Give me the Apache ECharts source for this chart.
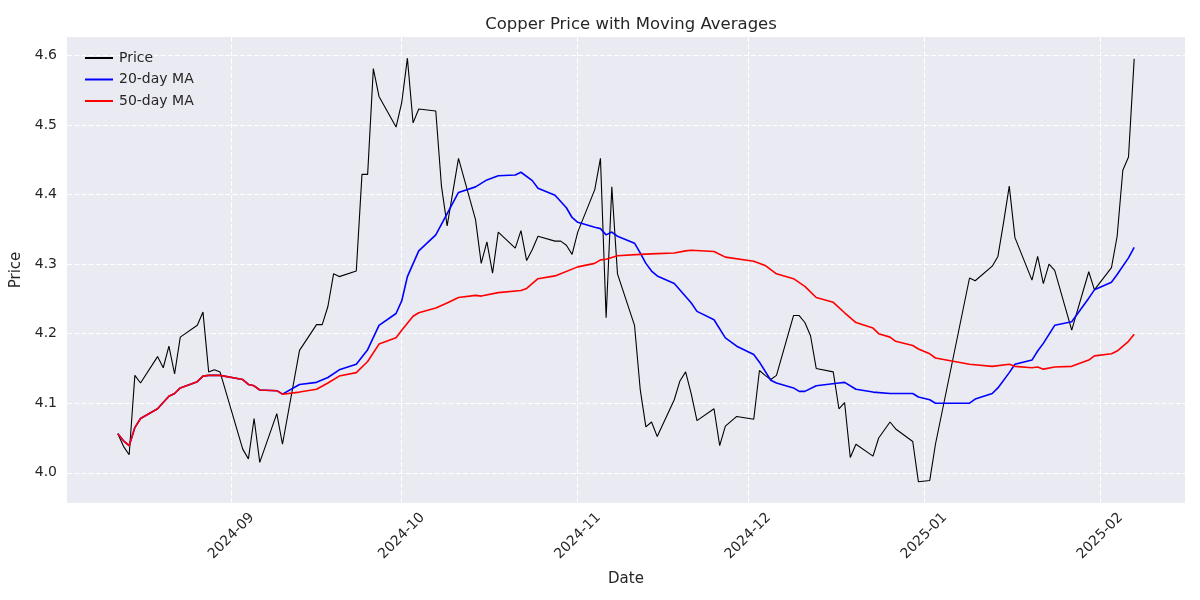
<!DOCTYPE html>
<html>
<head>
<meta charset="utf-8">
<script src="https://cdn.jsdelivr.net/npm/echarts@6/dist/echarts.min.js"></script>
<style>
  html, body { margin: 0; padding: 0; background: #ffffff; }
  #chart { width: 1200px; height: 600px; }
</style>
</head>
<body>
<div id="chart"></div>
<script>
// ---- Data ----
const priceDates = [
  '2024-08-12','2024-08-13','2024-08-14','2024-08-15','2024-08-16',
  '2024-08-19','2024-08-20','2024-08-21','2024-08-22','2024-08-23',
  '2024-08-26','2024-08-27','2024-08-28','2024-08-29','2024-08-30',
  '2024-09-03','2024-09-04','2024-09-05','2024-09-06',
  '2024-09-09','2024-09-10','2024-09-13',
  '2024-09-16','2024-09-17','2024-09-18','2024-09-19','2024-09-20',
  '2024-09-23','2024-09-24','2024-09-25','2024-09-26','2024-09-27',
  '2024-09-30','2024-10-01','2024-10-02','2024-10-03','2024-10-04',
  '2024-10-07','2024-10-08','2024-10-09','2024-10-11',
  '2024-10-14','2024-10-15','2024-10-16','2024-10-17','2024-10-18',
  '2024-10-21','2024-10-22','2024-10-23','2024-10-24','2024-10-25',
  '2024-10-28','2024-10-29','2024-10-30','2024-10-31','2024-11-01',
  '2024-11-04','2024-11-05','2024-11-06','2024-11-07','2024-11-08',
  '2024-11-11','2024-11-12','2024-11-13','2024-11-14','2024-11-15',
  '2024-11-18','2024-11-19','2024-11-20','2024-11-21','2024-11-22',
  '2024-11-25','2024-11-26','2024-11-27','2024-11-29',
  '2024-12-02','2024-12-03','2024-12-04','2024-12-05','2024-12-06',
  '2024-12-09','2024-12-10','2024-12-11','2024-12-12','2024-12-13',
  '2024-12-16','2024-12-17','2024-12-18','2024-12-19','2024-12-20',
  '2024-12-23','2024-12-24','2024-12-26','2024-12-27',
  '2024-12-30','2024-12-31','2025-01-02','2025-01-03',
  '2025-01-09','2025-01-10',
  '2025-01-13','2025-01-14','2025-01-15','2025-01-16','2025-01-17',
  '2025-01-20','2025-01-21','2025-01-22','2025-01-23','2025-01-24',
  '2025-01-27','2025-01-30','2025-01-31',
  '2025-02-03','2025-02-04','2025-02-05','2025-02-06','2025-02-07'
];
const priceValues = [
  4.056,4.038,4.026,4.140,4.129,
  4.167,4.151,4.182,4.142,4.195,
  4.212,4.231,4.145,4.148,4.145,
  4.034,4.020,4.078,4.015,
  4.085,4.041,4.176,
  4.213,4.213,4.239,4.286,4.282,
  4.290,4.429,4.429,4.581,4.541,
  4.497,4.532,4.596,4.503,4.523,
  4.520,4.412,4.355,4.452,
  4.364,4.301,4.332,4.287,4.346,
  4.323,4.348,4.305,4.321,4.340,
  4.333,4.333,4.327,4.314,4.346,
  4.407,4.452,4.223,4.411,4.286,
  4.212,4.120,4.066,4.073,4.052,
  4.105,4.132,4.145,4.113,4.075,
  4.092,4.039,4.067,4.081,
  4.077,4.147,4.140,4.134,4.140,
  4.226,4.226,4.216,4.197,4.150,
  4.145,4.092,4.101,4.022,4.041,
  4.024,4.050,4.073,4.063,
  4.045,3.987,3.989,4.041,
  4.280,4.276,
  4.297,4.311,4.360,4.412,4.338,
  4.277,4.311,4.272,4.300,4.291,
  4.205,4.289,4.263,
  4.295,4.340,4.435,4.454,4.595
];

const ma20Dates = [
  '2024-08-12','2024-08-13','2024-08-14','2024-08-15','2024-08-16',
  '2024-08-19','2024-08-20','2024-08-21','2024-08-22','2024-08-23',
  '2024-08-26','2024-08-27','2024-08-28','2024-08-29','2024-08-30',
  '2024-09-03','2024-09-04','2024-09-05','2024-09-06','2024-09-09',
  '2024-09-10','2024-09-13','2024-09-16','2024-09-18','2024-09-20',
  '2024-09-23','2024-09-25','2024-09-27','2024-09-30','2024-10-01',
  '2024-10-02','2024-10-04','2024-10-07','2024-10-11','2024-10-14',
  '2024-10-15','2024-10-16','2024-10-18','2024-10-21','2024-10-22',
  '2024-10-24','2024-10-25','2024-10-28','2024-10-30','2024-10-31',
  '2024-11-01','2024-11-04','2024-11-05','2024-11-06','2024-11-07',
  '2024-11-08','2024-11-11','2024-11-12','2024-11-13','2024-11-14',
  '2024-11-15','2024-11-18','2024-11-21','2024-11-22','2024-11-25',
  '2024-11-27','2024-11-29','2024-12-02','2024-12-03','2024-12-05',
  '2024-12-06','2024-12-09','2024-12-10','2024-12-11','2024-12-13',
  '2024-12-17','2024-12-18','2024-12-20','2024-12-23','2024-12-26',
  '2024-12-30','2024-12-31','2025-01-02','2025-01-03','2025-01-09',
  '2025-01-10','2025-01-13','2025-01-14','2025-01-16','2025-01-17',
  '2025-01-20','2025-01-21','2025-01-22','2025-01-24','2025-01-27',
  '2025-01-30','2025-01-31','2025-02-03','2025-02-04','2025-02-06',
  '2025-02-07'
];
const ma20Values = [
  4.056,4.046,4.039,4.065,4.078,
  4.092,4.101,4.110,4.114,4.122,
  4.131,4.139,4.140,4.140,4.140,
  4.134,4.127,4.125,4.119,4.118,
  4.113,4.127,4.130,4.137,4.148,
  4.156,4.177,4.212,4.229,4.247,
  4.282,4.319,4.342,4.403,4.411,
  4.416,4.421,4.427,4.428,4.432,
  4.420,4.409,4.399,4.381,4.367,
  4.360,4.353,4.351,4.342,4.346,
  4.340,4.330,4.316,4.301,4.290,
  4.283,4.272,4.244,4.232,4.220,
  4.194,4.182,4.170,4.159,4.133,
  4.129,4.122,4.117,4.117,4.125,
  4.129,4.130,4.120,4.116,4.114,
  4.114,4.109,4.105,4.100,4.100,
  4.106,4.114,4.122,4.144,4.156,
  4.162,4.175,4.186,4.212,4.217,
  4.251,4.263,4.274,4.285,4.309,
  4.324
];

const ma50Dates = [
  '2024-08-12','2024-08-13','2024-08-14','2024-08-15','2024-08-16',
  '2024-08-19','2024-08-20','2024-08-21','2024-08-22','2024-08-23',
  '2024-08-26','2024-08-27','2024-08-28','2024-08-29','2024-08-30',
  '2024-09-03','2024-09-04','2024-09-05','2024-09-06','2024-09-09',
  '2024-09-10','2024-09-13','2024-09-16','2024-09-18','2024-09-20',
  '2024-09-23','2024-09-25','2024-09-27','2024-09-30','2024-10-01',
  '2024-10-02','2024-10-03','2024-10-04','2024-10-07','2024-10-09',
  '2024-10-11','2024-10-14','2024-10-15','2024-10-18','2024-10-22',
  '2024-10-23','2024-10-25','2024-10-28','2024-11-01','2024-11-04',
  '2024-11-05','2024-11-06','2024-11-08','2024-11-12','2024-11-15',
  '2024-11-18','2024-11-20','2024-11-21','2024-11-25','2024-11-27',
  '2024-12-02','2024-12-04','2024-12-06','2024-12-09','2024-12-11',
  '2024-12-13','2024-12-16','2024-12-18','2024-12-20','2024-12-23',
  '2024-12-24','2024-12-26','2024-12-27','2024-12-30','2024-12-31',
  '2025-01-02','2025-01-03','2025-01-09','2025-01-13','2025-01-16',
  '2025-01-17','2025-01-20','2025-01-21','2025-01-22','2025-01-24',
  '2025-01-27','2025-01-30','2025-01-31','2025-02-03','2025-02-04',
  '2025-02-06','2025-02-07'
];
const ma50Values = [
  4.056,4.046,4.039,4.065,4.078,
  4.092,4.101,4.110,4.114,4.122,
  4.131,4.139,4.140,4.140,4.140,
  4.134,4.127,4.125,4.119,4.118,
  4.113,4.116,4.120,4.129,4.139,
  4.144,4.160,4.185,4.194,4.205,
  4.215,4.225,4.230,4.237,4.244,
  4.252,4.255,4.254,4.259,4.262,
  4.265,4.279,4.283,4.296,4.301,
  4.306,4.307,4.312,4.314,4.315,
  4.316,4.319,4.320,4.318,4.310,
  4.304,4.298,4.286,4.279,4.268,
  4.252,4.245,4.230,4.216,4.208,
  4.200,4.195,4.189,4.183,4.178,
  4.171,4.165,4.156,4.153,4.156,
  4.153,4.151,4.152,4.149,4.152,
  4.153,4.162,4.168,4.171,4.175,
  4.189,4.199
];

const xTickLabels = ['2024-09','2024-10','2024-11','2024-12','2025-01','2025-02'];
const yTickValues = [4.0, 4.1, 4.2, 4.3, 4.4, 4.5, 4.6];

// ---- Helpers ----
function ts(s) {
  const p = s.split('-').map(Number);
  return Date.UTC(p[0], p[1] - 1, p[2] || 1);
}
function zip(dates, vals) { return dates.map((d, i) => [ts(d), vals[i]]); }

const xTicks = xTickLabels.map(ts);
const tFirst = ts(priceDates[0]);
const tLast = ts(priceDates[priceDates.length - 1]);
const tPad = (tLast - tFirst) * 0.05;
const vMin = Math.min(...priceValues), vMax = Math.max(...priceValues);
const vPad = (vMax - vMin) * 0.05;

const TXT = '#262626';
const FONT = 'DejaVu Sans';

const chart = echarts.init(document.getElementById('chart'), null, { renderer: 'canvas' });
chart.setOption({
  backgroundColor: '#ffffff',
  animation: false,
  title: {
    text: 'Copper Price with Moving Averages',
    left: 626, top: 11, textAlign: 'center',
    textStyle: { fontFamily: FONT, fontSize: 16.5, fontWeight: 'normal', color: TXT }
  },
  legend: {
    orient: 'vertical',
    left: 80, top: 46,
    icon: 'rect',
    itemWidth: 28, itemHeight: 2, itemGap: 7.5,
    textStyle: { fontFamily: FONT, fontSize: 14, color: TXT, padding: [0, 0, 0, 1] },
    data: ['Price', '20-day MA', '50-day MA']
  },
  grid: {
    left: 67, right: 15, top: 37, bottom: 97,
    show: true, backgroundColor: '#EAEAF2', borderWidth: 0
  },
  xAxis: {
    type: 'value',
    min: tFirst - tPad, max: tLast + tPad,
    name: 'Date', nameLocation: 'middle', nameGap: 69,
    nameTextStyle: { fontFamily: FONT, fontSize: 15, color: TXT },
    axisLine: { show: false },
    axisTick: { show: false, customValues: xTicks },
    axisLabel: {
      customValues: xTicks,
      rotate: 45, align: 'center', verticalAlign: 'middle', margin: 33,
      fontFamily: FONT, fontSize: 14, color: TXT,
      formatter: function (v) {
        const i = xTicks.indexOf(v);
        return i >= 0 ? xTickLabels[i] : '';
      }
    },
    splitLine: { show: true, lineStyle: { color: '#ffffff', width: 1, type: [5, 2.2] } }
  },
  yAxis: {
    type: 'value',
    min: vMin - vPad, max: vMax + vPad,
    name: 'Price', nameLocation: 'middle', nameGap: 37, nameRotate: 90,
    nameTextStyle: { fontFamily: FONT, fontSize: 15, color: TXT },
    axisLine: { show: false },
    axisTick: { show: false, customValues: yTickValues },
    axisLabel: {
      customValues: yTickValues,
      margin: 10, fontFamily: FONT, fontSize: 14, color: TXT,
      formatter: function (v) { return v.toFixed(1); }
    },
    splitLine: { show: true, lineStyle: { color: '#ffffff', width: 1, type: [5, 2.2] } }
  },
  series: [
    {
      name: 'Price', type: 'line', data: zip(priceDates, priceValues),
      showSymbol: false, symbol: 'none',
      lineStyle: { color: '#000000', width: 1.1 }, itemStyle: { color: '#000000' }, z: 3
    },
    {
      name: '20-day MA', type: 'line', data: zip(ma20Dates, ma20Values),
      showSymbol: false, symbol: 'none',
      lineStyle: { color: '#0000FF', width: 1.6 }, itemStyle: { color: '#0000FF' }, z: 4
    },
    {
      name: '50-day MA', type: 'line', data: zip(ma50Dates, ma50Values),
      showSymbol: false, symbol: 'none',
      lineStyle: { color: '#FF0000', width: 1.6 }, itemStyle: { color: '#FF0000' }, z: 5
    }
  ]
});
</script>
</body>
</html>
